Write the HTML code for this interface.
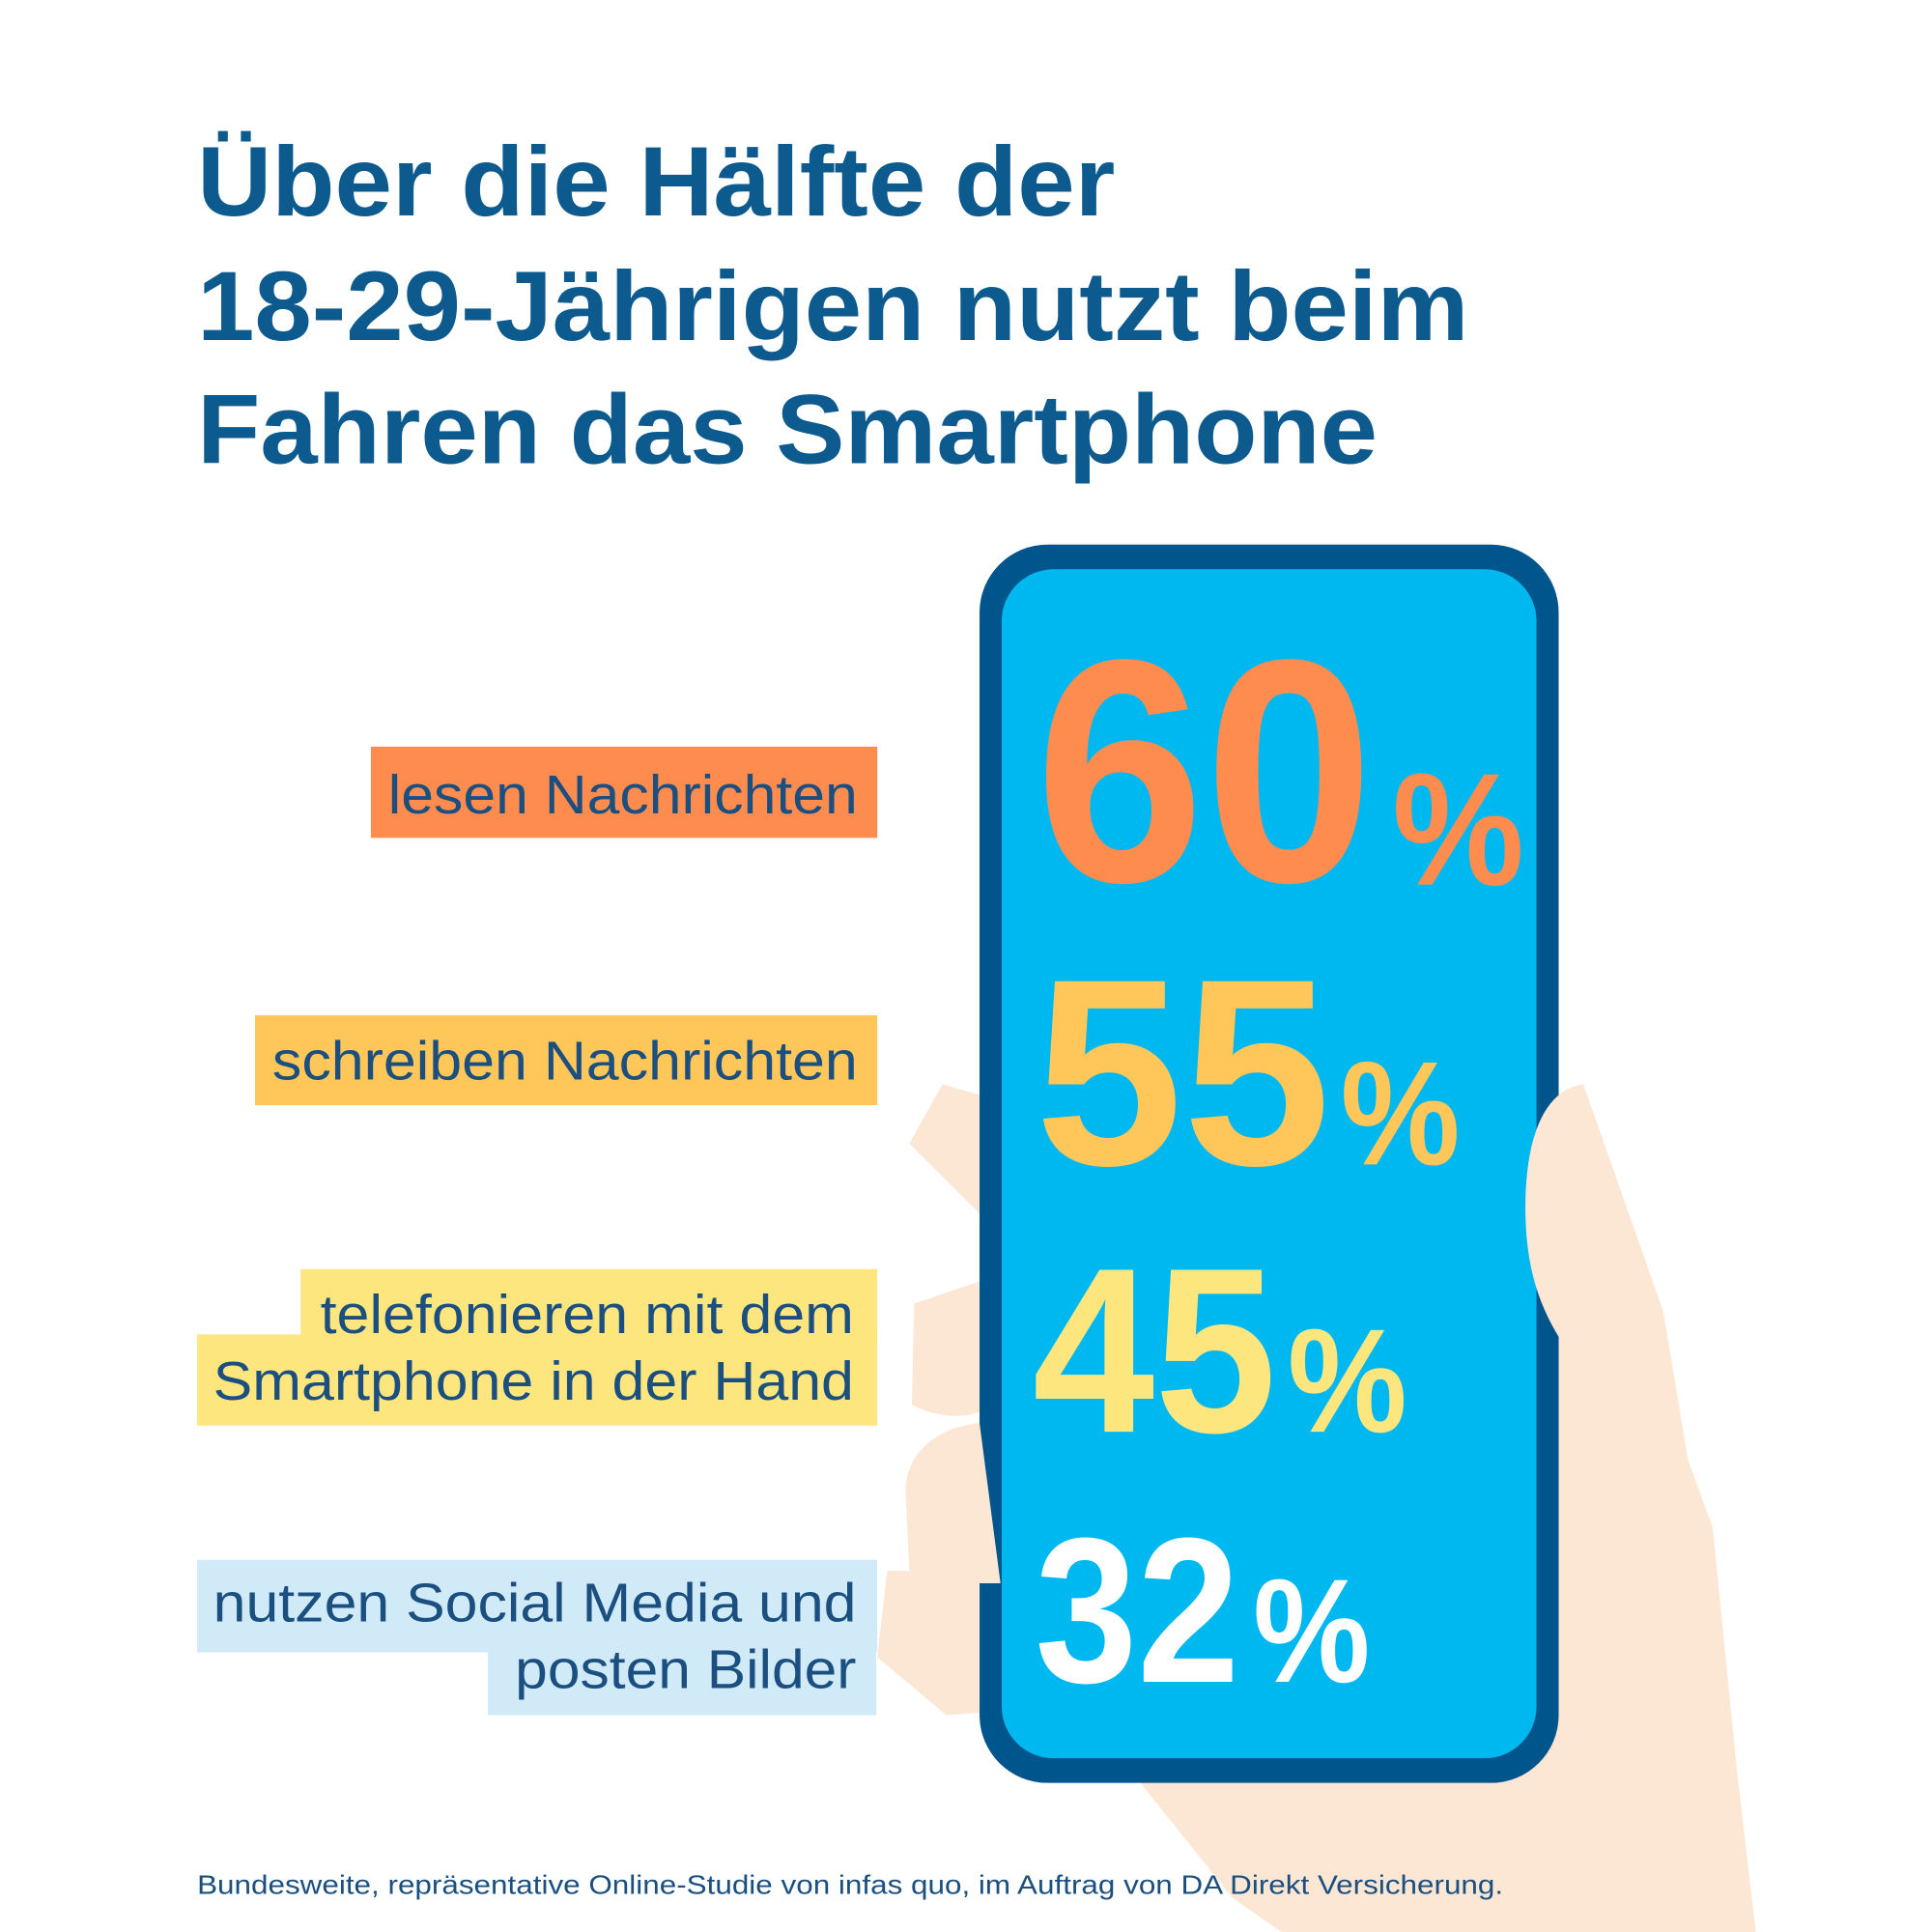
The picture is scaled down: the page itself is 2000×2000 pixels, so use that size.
<!DOCTYPE html>
<html><head><meta charset="utf-8"><style>html,body{margin:0;padding:0;background:#fff}svg{display:block}</style></head>
<body>
<svg width="2000" height="2000" viewBox="0 0 1568 1568" xmlns="http://www.w3.org/2000/svg" font-family="Liberation Sans, Arial, sans-serif">
<rect width="1568" height="1568" fill="#fff"/>
<g fill="#0d5a8f" font-weight="bold" font-size="80">
<text x="160" y="175" textLength="745" lengthAdjust="spacingAndGlyphs">Über die Hälfte der</text>
<text x="160" y="276" textLength="1032" lengthAdjust="spacingAndGlyphs">18-29-Jährigen nutzt beim</text>
<text x="160" y="376" textLength="958" lengthAdjust="spacingAndGlyphs">Fahren das Smartphone</text>
</g>
<!-- hand behind phone -->
<g fill="#fce6d4">
<path d="M765,880 L738,928 L795,985 L800,890 Z"/>
<path d="M742,1058 L795,1040 L797,1145 C780,1152 760,1150 740,1140 Z"/>
<path d="M920,1440 L1000,1540 L1040,1568 L1425,1568 L1410,1440 L1390,1240 L1370,1185 L1350,1065 L1285,880 L1250,900 L1250,1380 Z"/>
</g>
<!-- phone -->
<rect x="795" y="442" width="470" height="1005" rx="55" fill="#00558c"/>
<rect x="813" y="462" width="434" height="965" rx="42" fill="#00b8f0"/>
<!-- fingers over phone -->
<g fill="#fce6d4">
<path d="M795,1155 L812,1285 L795,1285 L795,1390 L768,1392 L712,1345 L720,1275 L738,1275 L735,1210 C735,1180 760,1158 795,1155 Z"/>
<path d="M1285,880 C1250,885 1238,930 1238,980 C1238,1030 1250,1060 1265,1085 L1350,1065 Z"/>
</g>
<!-- labels -->
<rect x="301" y="606" width="411" height="74" fill="#ff8c4f"/>
<rect x="207" y="824" width="505" height="73" fill="#ffc65a"/>
<rect x="244" y="1030" width="468" height="56" fill="#fde67e"/>
<rect x="160" y="1083" width="552" height="74" fill="#fde67e"/>
<rect x="160" y="1266" width="552" height="75" fill="#d0eaf8"/>
<rect x="396" y="1340" width="315" height="52" fill="#d0eaf8"/>
<g fill="#1a4f80" font-size="44">
<text x="315" y="660" textLength="381" lengthAdjust="spacingAndGlyphs">lesen Nachrichten</text>
<text x="221" y="876" textLength="475" lengthAdjust="spacingAndGlyphs">schreiben Nachrichten</text>
<text x="260" y="1082" textLength="433" lengthAdjust="spacingAndGlyphs">telefonieren mit dem</text>
<text x="173" y="1136" textLength="520" lengthAdjust="spacingAndGlyphs">Smartphone in der Hand</text>
<text x="173" y="1316" textLength="522" lengthAdjust="spacingAndGlyphs">nutzen Social Media und</text>
<text x="418" y="1370" textLength="277" lengthAdjust="spacingAndGlyphs">posten Bilder</text>
</g>
<!-- numbers -->
<g font-weight="bold">
<text x="840" y="715" font-size="258" fill="#ff8c4f" textLength="275" lengthAdjust="spacingAndGlyphs">60</text>
<text x="1130" y="718" font-size="130" fill="#ff8c4f" textLength="107" lengthAdjust="spacingAndGlyphs">%</text>
<text x="840" y="945" font-size="216" fill="#ffc65a" textLength="240" lengthAdjust="spacingAndGlyphs">55</text>
<text x="1088" y="945" font-size="120" fill="#ffc65a" textLength="97" lengthAdjust="spacingAndGlyphs">%</text>
<text x="838" y="1162" font-size="191" fill="#fde67e" textLength="198" lengthAdjust="spacingAndGlyphs">45</text>
<text x="1045" y="1162" font-size="120" fill="#fde67e" textLength="97" lengthAdjust="spacingAndGlyphs">%</text>
<text x="840" y="1365" font-size="168" fill="#fff" textLength="166" lengthAdjust="spacingAndGlyphs">32</text>
<text x="1017" y="1365" font-size="120" fill="#fff" textLength="95" lengthAdjust="spacingAndGlyphs">%</text>
</g>
<text x="160" y="1537" font-size="22" fill="#1a4f80" textLength="1060" lengthAdjust="spacingAndGlyphs">Bundesweite, repräsentative Online-Studie von infas quo, im Auftrag von DA Direkt Versicherung.</text>
</svg>
</body></html>
